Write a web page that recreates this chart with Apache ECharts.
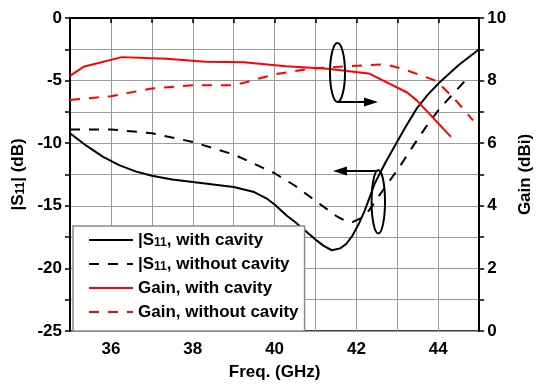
<!DOCTYPE html>
<html><head><meta charset="utf-8">
<script src="https://cdn.jsdelivr.net/npm/echarts@6/dist/echarts.min.js"></script>
<style>html,body{margin:0;padding:0;background:#fff}#c{width:542px;height:386px}</style>
</head><body><div id="c"></div>
<script>
// Frequency (GHz) and values
const s11CavFreq = [35, 35.4, 35.8, 36.2, 36.6, 37, 37.5, 38, 38.5, 39, 39.5, 39.8, 40, 40.3, 40.5, 40.75, 41, 41.2, 41.4, 41.6, 41.75, 41.9, 42.05, 42.2, 42.45, 42.7, 42.95, 43.2, 43.48, 43.75, 44.03, 44.5, 45];
const s11CavVal  = [-9.2, -10.2, -11.07, -11.75, -12.25, -12.6, -12.9, -13.1, -13.3, -13.5, -13.9, -14.4, -14.9, -15.8, -16.3, -17.0, -17.7, -18.2, -18.55, -18.4, -18.05, -17.4, -16.5, -15.4, -13.2, -11.6, -10.15, -8.7, -7.2, -6.1, -5.15, -3.75, -2.5];

const s11NoFreq = [35, 36, 37, 38, 39, 40, 40.5, 41, 41.5, 41.7, 41.9, 42.1, 42.3, 42.66, 43.01, 43.4, 43.7, 44.03, 44.35, 44.66];
const s11NoVal  = [-8.9, -8.9, -9.2, -9.9, -10.9, -12.4, -13.4, -14.6, -15.8, -16.15, -16.3, -16.0, -15.4, -13.7, -12.1, -10.15, -8.7, -7.26, -6.1, -5.0];

const gainCavFreq = [35, 35.33, 36.27, 37.36, 38.3, 39.25, 40.27, 41.29, 42.3, 43.24, 43.48, 44.31];
const gainCavVal  = [8.15, 8.44, 8.75, 8.70, 8.60, 8.59, 8.46, 8.38, 8.23, 7.62, 7.36, 6.20];

const gainNoFreq = [35, 36, 37, 38, 39, 39.3, 40, 40.86, 41.76, 42.7, 43.17, 43.95, 44.4, 44.85];
const gainNoVal  = [7.38, 7.50, 7.75, 7.85, 7.85, 7.95, 8.20, 8.38, 8.46, 8.52, 8.36, 7.99, 7.41, 6.73];

const seriesNames = ['|S11|, with cavity', '|S11|, without cavity', 'Gain, with cavity', 'Gain, without cavity'];

const zip = (a, b) => a.map((x, i) => [x, b[i]]);
const FONT = 'Liberation Sans, Arial, sans-serif';

const chart = echarts.init(document.getElementById('c'));
const lbl = {fontFamily: FONT, fontWeight: 'bold', fontSize: 17, color: '#000'};
const rich = {
  b: {fontFamily: FONT, fontWeight: 'bold', fontSize: 17, color: '#000'},
  s: {fontFamily: FONT, fontWeight: 'bold', fontSize: 12, color: '#000', padding: [5, 0, 0, 0]}
};
chart.setOption({
  animation: false,
  backgroundColor: '#fff',
  grid: {left: 70, right: 48, top: 18, bottom: 51, show: true, borderColor: '#000', borderWidth: 1.5, backgroundColor: 'transparent'},
  xAxis: {
    type: 'value', min: 35, max: 45, interval: 1,
    name: 'Freq. (GHz)', nameLocation: 'middle', nameGap: 33,
    nameTextStyle: lbl,
    axisLine: {lineStyle: {color: '#000', width: 2}},
    axisTick: {show: true, length: 5, lineStyle: {color: '#000', width: 1.5}},
    axisLabel: Object.assign({margin: 10, formatter: v => (v % 2 === 0 && v > 35 && v < 45) ? String(v) : ''}, lbl),
    splitLine: {show: true, lineStyle: {color: '#9a9a9a', width: 1}}
  },
  yAxis: [{
    type: 'value', min: -25, max: 0, interval: 2.5, position: 'left',
    name: '{b||S}{s|11}{b|| (dB)}', nameLocation: 'middle', nameGap: 42, nameRotate: 90,
    nameTextStyle: {rich: rich},
    axisLine: {show: true, lineStyle: {color: '#000', width: 2}},
    axisTick: {show: true, length: 5, lineStyle: {color: '#000', width: 1.5}},
    axisLabel: Object.assign({margin: 8, formatter: v => (v % 5 === 0) ? String(v) : ''}, lbl),
    splitLine: {show: true, lineStyle: {color: '#9a9a9a', width: 1}}
  }, {
    type: 'value', min: 0, max: 10, interval: 1, position: 'right',
    name: 'Gain (dBi)', nameLocation: 'middle', nameGap: 36, nameRotate: 90,
    nameTextStyle: lbl,
    axisLine: {show: true, lineStyle: {color: '#000', width: 2}},
    axisTick: {show: true, length: 5, lineStyle: {color: '#000', width: 1.5}},
    axisLabel: Object.assign({margin: 8, formatter: v => (v % 2 === 0) ? String(v) : ''}, lbl),
    splitLine: {show: false}
  }],
  legend: {
    orient: 'vertical', left: 73, top: 226,
    padding: [5, 6, 10, 15], itemWidth: 44, itemHeight: 14, itemGap: 6,
    backgroundColor: '#fff', borderColor: '#8a8a8a', borderWidth: 1.5,
    itemStyle: {opacity: 0},
    data: seriesNames,
    formatter: n => n.startsWith('|S11|') ? '{b||S}{s|11}{b|' + n.slice(5) + '}' : '{b|' + n + '}',
    textStyle: {lineHeight: 18, rich: rich}
  },
  series: [
    {name: seriesNames[0], type: 'line', yAxisIndex: 0, symbol: 'none', data: zip(s11CavFreq, s11CavVal),
     lineStyle: {color: '#000', width: 2}, itemStyle: {color: '#000'}},
    {name: seriesNames[1], type: 'line', yAxisIndex: 0, symbol: 'none', data: zip(s11NoFreq, s11NoVal),
     lineStyle: {color: '#000', width: 2, type: [10, 9]}, itemStyle: {color: '#000'}},
    {name: seriesNames[2], type: 'line', yAxisIndex: 1, symbol: 'none', data: zip(gainCavFreq, gainCavVal),
     lineStyle: {color: '#ff0000', width: 2}, itemStyle: {color: '#ff0000'}},
    {name: seriesNames[3], type: 'line', yAxisIndex: 1, symbol: 'none', data: zip(gainNoFreq, gainNoVal),
     lineStyle: {color: '#ff0000', width: 2, type: [10, 9]}, itemStyle: {color: '#ff0000'}}
  ],
  graphic: [
    {type: 'ellipse', shape: {cx: 337.5, cy: 72.5, rx: 7.5, ry: 29.5}, style: {fill: 'none', stroke: '#000', lineWidth: 2}, z: 100},
    {type: 'line', shape: {x1: 337, y1: 102, x2: 366, y2: 102}, style: {stroke: '#000', lineWidth: 2}, z: 100},
    {type: 'polygon', shape: {points: [[378, 102], [364, 97.5], [364, 106.5]]}, style: {fill: '#000'}, z: 100},
    {type: 'ellipse', shape: {cx: 378.3, cy: 201.7, rx: 6.7, ry: 31.7}, style: {fill: 'none', stroke: '#000', lineWidth: 2}, z: 100},
    {type: 'line', shape: {x1: 378, y1: 171, x2: 345, y2: 171}, style: {stroke: '#000', lineWidth: 2}, z: 100},
    {type: 'polygon', shape: {points: [[333, 171], [347, 166.5], [347, 175.5]]}, style: {fill: '#000'}, z: 100}
  ]
});
</script></body></html>
